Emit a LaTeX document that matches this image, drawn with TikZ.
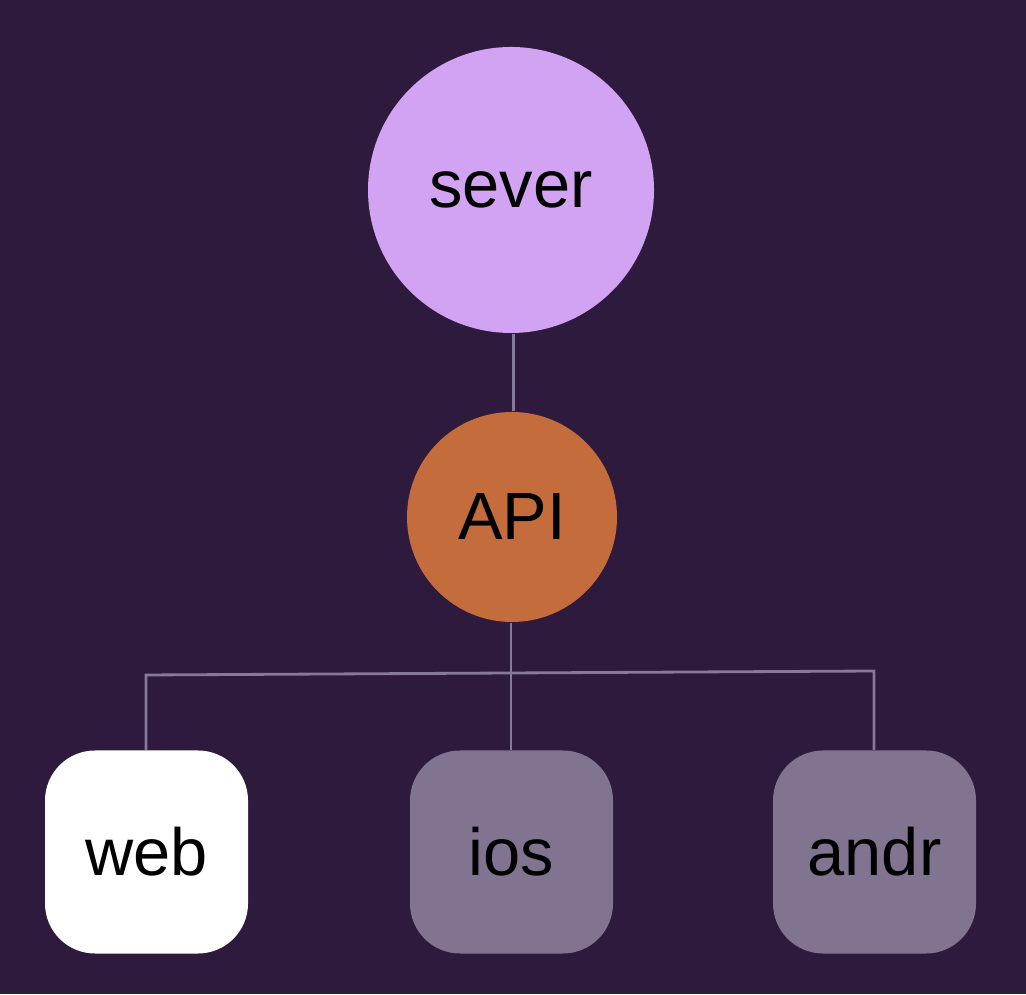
\documentclass[tikz,border=0pt]{standalone}
\usepackage{fontspec}
\setmainfont{Liberation Sans}
\definecolor{bgdark}{HTML}{2E1A3C}
\definecolor{severpink}{HTML}{D1A3F2}
\definecolor{apiorange}{HTML}{C46C3C}
\definecolor{boxgray}{HTML}{817490}
\definecolor{linegray}{HTML}{877A98}
\begin{document}
\begin{tikzpicture}[
  every node/.style = {font=\fontsize{19}{22}\selectfont, text=black},
  ball/.style = {circle, inner sep=0pt},
  client/.style = {rectangle, rounded corners=0.5cm, minimum size=2.03cm, inner sep=0pt},
  wire/.style = {draw=linegray, line width=0.8pt}
]
\path [fill=bgdark] (0,0) rectangle (10.26,9.94); % background
\node[ball, fill=severpink, minimum size=2.86cm] (sever) at (5.11, 8.04) {sever};
\node[ball, fill=apiorange, minimum size=2.1cm] (api) at (5.12, 4.77) {API};
\node[client, fill=white] (web) at (1.465, 1.42) {web};
\node[client, fill=boxgray] (ios) at (5.115, 1.42) {ios};
\node[client, fill=boxgray] (andr) at (8.745, 1.42) {andr};
\coordinate (barL) at (1.46, 3.19);
\coordinate (barR) at (8.74, 3.23);
\draw[wire] (sever.south -| 5.135,0) -- (api.north -| 5.135,0);
\draw[wire] (api.south -| 5.11,0) -- (ios.north -| 5.11,0);
\draw[wire] (web.north -| barL) -- (barL) -- (barR) -- (andr.north -| barR);
\end{tikzpicture}
\end{document}
